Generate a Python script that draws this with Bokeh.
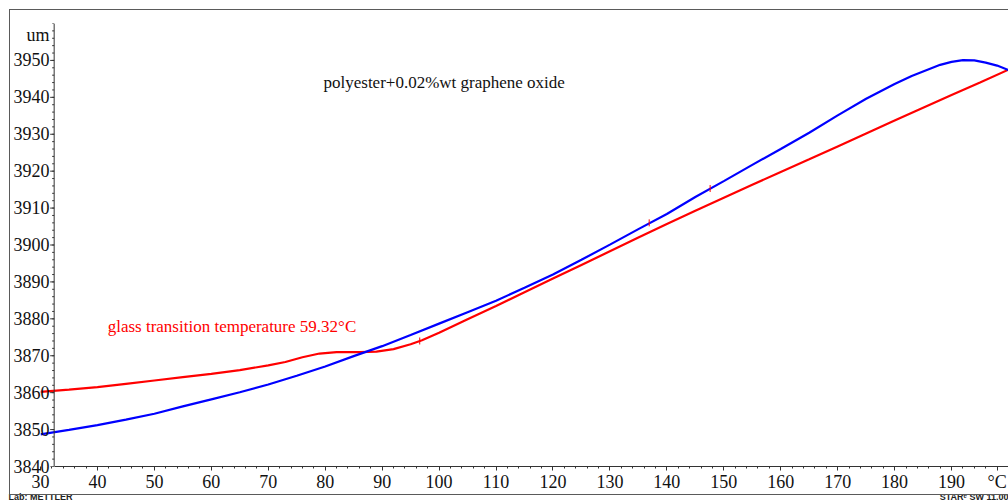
import math
from bokeh.plotting import figure
from bokeh.models import (Range1d, FixedTicker, Label, LinearAxis, Span,
                          InlineStyleSheet)
from bokeh.embed import file_html
from bokeh.resources import INLINE

# ---- data ----
temp_blue = [30, 35, 40, 45, 50, 55, 60, 65, 70, 75, 80, 85, 90, 95, 100, 105, 110,
             115, 120, 125, 130, 135, 140, 145, 150, 155, 160, 165, 170, 175, 180,
             183, 186, 188, 190, 192, 194, 196, 198, 200]
len_blue = [3848.7, 3849.9, 3851.2, 3852.7, 3854.3, 3856.3, 3858.2, 3860.1, 3862.2,
            3864.6, 3867.1, 3869.9, 3872.6, 3875.6, 3878.7, 3881.8, 3884.9, 3888.4,
            3892.0, 3896.0, 3900.1, 3904.3, 3908.4, 3913.0, 3917.3, 3921.7, 3926.0,
            3930.4, 3935.1, 3939.6, 3943.6, 3945.8, 3947.6, 3948.8, 3949.6, 3950.1,
            3950.0, 3949.4, 3948.6, 3947.4]

temp_red = [30, 35, 40, 45, 50, 55, 60, 65, 70, 73, 76, 79, 82, 86, 89, 92, 95, 97,
            100, 105, 110, 115, 120, 125, 130, 135, 140, 145, 150, 155, 160, 165,
            170, 175, 180, 185, 190, 195, 200]
len_red = [3860.2, 3860.8, 3861.5, 3862.4, 3863.3, 3864.2, 3865.1, 3866.1, 3867.4,
           3868.3, 3869.6, 3870.6, 3871.0, 3871.0, 3871.1, 3871.8, 3873.1, 3874.2,
           3876.2, 3879.9, 3883.5, 3887.2, 3890.9, 3894.6, 3898.3, 3902.0, 3905.7,
           3909.3, 3912.8, 3916.3, 3919.8, 3923.2, 3926.7, 3930.2, 3933.7, 3937.2,
           3940.6, 3944.0, 3947.5]

red_mark_x = [96.6]
red_mark_y = [3874.0]
blue_mark_x = [136.9, 147.6]
blue_mark_y = [3906.0, 3915.3]

x_major_ticks = list(range(30, 200, 10))
x_minor_ticks = list(range(32, 202, 2))
x_unit_tick = 198
x_unit = "\u00b0C"
y_major_ticks = list(range(3840, 3960, 10))
y_minor_ticks = list(range(3840, 3962, 2))
y_unit_tick = 3957
y_unit = "um"
y_axis_at = 32.4   # temperature where the vertical axis crosses

title_text = "polyester+0.02%wt graphene oxide"
tg_text = "glass transition temperature 59.32\u00b0C"
footer_ticks = [30, 195]
footer_texts = ["Lab: METTLER", "STAR\u1d49 SW 11.00"]

SERIF = "Liberation Serif"
AXIS_COLOR = "#333333"

border_css = InlineStyleSheet(css="""
:host { position: relative; }
:host::after {
  content: '';
  position: absolute;
  left: 9px; top: 9px;
  width: 999px; height: 486px;
  border: 1px solid #5a5a5a;
  border-right: none;
  box-sizing: border-box;
  pointer-events: none;
}
""")

p = figure(width=1008, height=504,
           x_range=Range1d(30, 200), y_range=Range1d(3840, 3960),
           output_backend="svg", toolbar_location=None,
           min_border_left=40, min_border_right=0,
           min_border_top=23, min_border_bottom=37)
p.stylesheets = [border_css]
p.outline_line_color = None
p.grid.visible = False
p.background_fill_color = "white"
p.border_fill_color = "white"

# curves
p.line(temp_red, len_red, line_color="#ff0000", line_width=2.2)
p.line(temp_blue, len_blue, line_color="#0000ff", line_width=2.2)
p.scatter(red_mark_x, red_mark_y, marker="dash", angle=math.pi / 2, size=7,
          line_color="#ff0000", line_width=1)
p.scatter(blue_mark_x, blue_mark_y, marker="dash", angle=math.pi / 2, size=7,
          line_color="#ff0000", line_width=1)

# vertical axis line and its ticks (inside the frame, as in the reference)
p.add_layout(Span(location=y_axis_at, dimension="height", line_color=AXIS_COLOR,
                  line_width=1))
p.ray(x=[y_axis_at] * len(y_minor_ticks), y=y_minor_ticks, length=2,
      length_units="screen", angle=math.pi, line_color=AXIS_COLOR, line_width=1)
p.ray(x=[y_axis_at] * len(y_major_ticks), y=y_major_ticks, length=4,
      length_units="screen", angle=math.pi, line_color=AXIS_COLOR, line_width=1)

# y axis: only its labels, pushed right next to the axis line
ya = p.yaxis[0]
ya.ticker = FixedTicker(ticks=y_major_ticks + [y_unit_tick], minor_ticks=[])
ya.major_label_overrides = {y_unit_tick: y_unit}
ya.axis_line_color = None
ya.major_tick_line_color = None
ya.minor_tick_line_color = None
ya.major_tick_out = 0
ya.minor_tick_out = 0
ya.major_label_standoff = -9
ya.major_label_text_font = SERIF
ya.major_label_text_font_size = "18px"
ya.major_label_text_color = "#111111"

# x axis
xa = p.xaxis[0]
xa.ticker = FixedTicker(ticks=x_major_ticks + [x_unit_tick], minor_ticks=x_minor_ticks)
xa.major_label_overrides = {x_unit_tick: x_unit}
xa.bounds = (y_axis_at, 200)
xa.axis_line_color = AXIS_COLOR
xa.major_tick_line_color = AXIS_COLOR
xa.minor_tick_line_color = AXIS_COLOR
xa.major_tick_in = 0
xa.minor_tick_in = 0
xa.major_tick_out = 4
xa.minor_tick_out = 2
xa.major_label_standoff = 1
xa.major_label_text_font = SERIF
xa.major_label_text_font_size = "18px"
xa.major_label_text_color = "#111111"

# footer row (below the x axis)
fa = LinearAxis(ticker=FixedTicker(ticks=footer_ticks, minor_ticks=[]),
                major_label_overrides=dict(zip(footer_ticks, footer_texts)),
                axis_line_color=None, major_tick_line_color=None,
                minor_tick_line_color=None, major_tick_out=0, major_tick_in=0,
                minor_tick_out=0, minor_tick_in=0, major_label_standoff=-3,
                major_label_text_font="Liberation Sans",
                major_label_text_font_size="9px",
                major_label_text_font_style="bold",
                major_label_text_color="#222222")
p.add_layout(fa, "below")

# annotations
p.add_layout(Label(x=79.7, y=3944.05, text=title_text, text_align="left",
                   text_baseline="middle", text_font=SERIF, text_font_size="17px",
                   text_color="#111111"))
p.add_layout(Label(x=41.8, y=3878.05, text=tg_text, text_align="left",
                   text_baseline="middle", text_font=SERIF, text_font_size="17px",
                   text_color="#ff0000"))

open("out.html", "w").write(file_html(p, INLINE))
